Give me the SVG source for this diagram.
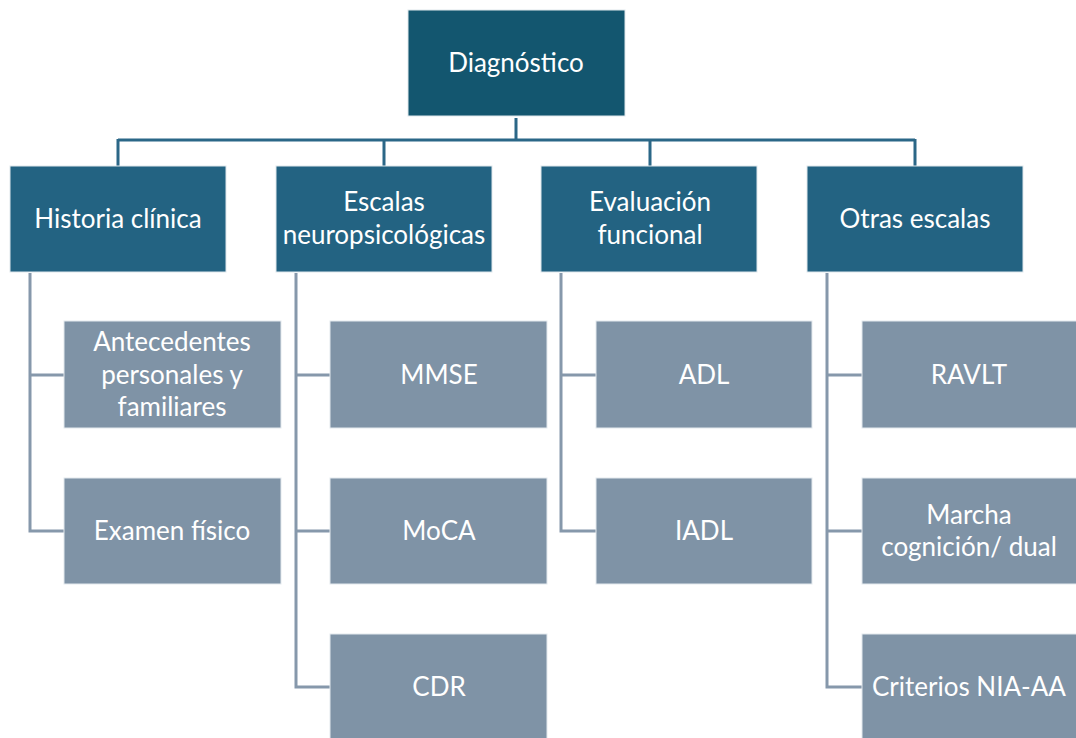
<svg xmlns="http://www.w3.org/2000/svg" width="1076" height="738" viewBox="0 0 1076 738">
<style>
.root{fill:#13566f;stroke:#dfe7ec;stroke-width:1}
.l1{fill:#236382;stroke:#dfe7ec;stroke-width:1}
.l2{fill:#7f93a6;stroke:#e4e9ee;stroke-width:1}
text{font-family:Lato,"Noto Sans",sans-serif;font-size:26px;fill:#ffffff;text-anchor:middle}
.top{fill:none;stroke:#2b6787;stroke-width:3}
.sub{fill:none;stroke:#8698ab;stroke-width:3}
</style>
<rect width="1076" height="738" fill="#ffffff"/>
<g id="connectors">
<path class="top" d="M516,118V140M118,140H915M118,139V166M384,139V166M650,139V166M915,139V166"/>
<path class="sub" d="M30,273V531H64M30,375H64"/>
<path class="sub" d="M296,273V687H330M296,375H330M296,531H330"/>
<path class="sub" d="M561,273V531H596M561,375H596"/>
<path class="sub" d="M827,273V687H862M827,375H862M827,531H862"/>
</g>
<g id="n-diagnostico"><rect class="root" x="408" y="10" width="217" height="106"/><text x="516" y="72">Diagnóstico</text></g>
<g id="n-historia"><rect class="l1" x="10" y="166" width="216" height="106"/><text x="118" y="228">Historia clínica</text></g>
<g id="n-escalas"><rect class="l1" x="276" y="166" width="216" height="106"/><text x="384" y="211">Escalas</text><text x="384" y="244">neuropsicológicas</text></g>
<g id="n-evaluacion"><rect class="l1" x="541" y="166" width="216" height="106"/><text x="650" y="211">Evaluación</text><text x="650" y="244">funcional</text></g>
<g id="n-otras"><rect class="l1" x="807" y="166" width="216" height="106"/><text x="915" y="228">Otras escalas</text></g>
<g id="n-antecedentes"><rect class="l2" x="64" y="321" width="217" height="107"/><text x="172" y="351">Antecedentes</text><text x="172" y="384">personales y</text><text x="172" y="416">familiares</text></g>
<g id="n-examen"><rect class="l2" x="64" y="478" width="217" height="106"/><text x="172" y="540">Examen físico</text></g>
<g id="n-mmse"><rect class="l2" x="330" y="321" width="217" height="107"/><text x="439" y="384">MMSE</text></g>
<g id="n-moca"><rect class="l2" x="330" y="478" width="217" height="106"/><text x="439" y="540">MoCA</text></g>
<g id="n-cdr"><rect class="l2" x="330" y="634" width="217" height="106"/><text x="439" y="696">CDR</text></g>
<g id="n-adl"><rect class="l2" x="596" y="321" width="216" height="107"/><text x="704" y="384">ADL</text></g>
<g id="n-iadl"><rect class="l2" x="596" y="478" width="216" height="106"/><text x="704" y="540">IADL</text></g>
<g id="n-ravlt"><rect class="l2" x="862" y="321" width="216" height="107"/><text x="969" y="384">RAVLT</text></g>
<g id="n-marcha"><rect class="l2" x="862" y="478" width="216" height="106"/><text x="969" y="524">Marcha</text><text x="969" y="556">cognición/ dual</text></g>
<g id="n-criterios"><rect class="l2" x="862" y="634" width="216" height="106"/><text x="969" y="696">Criterios NIA-AA</text></g>
</svg>
